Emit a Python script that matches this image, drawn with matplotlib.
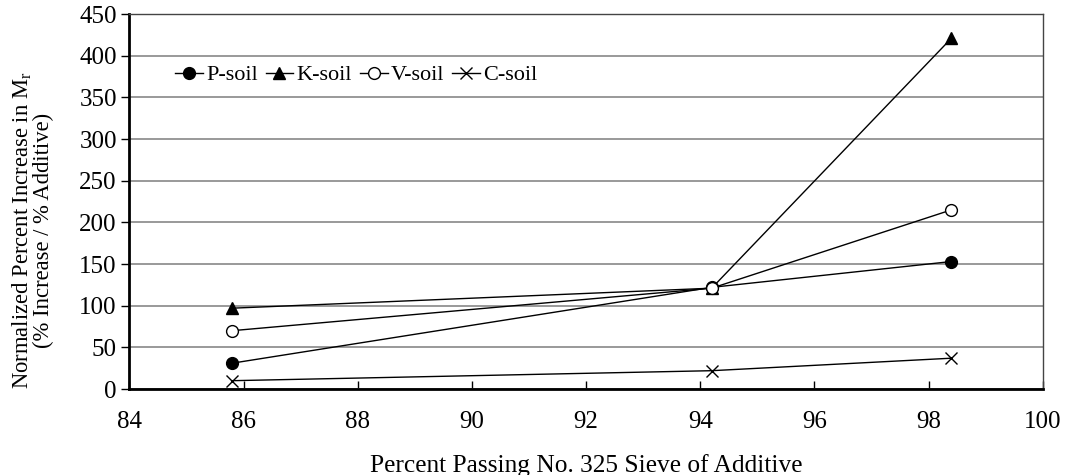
import matplotlib
matplotlib.use('Agg')
import matplotlib.pyplot as plt

plt.rcParams['font.family'] = ['Liberation Serif', 'DejaVu Serif']
plt.rcParams['mathtext.fontset'] = 'custom'
plt.rcParams['mathtext.rm'] = 'Liberation Serif'

# data
passing = [85.8, 94.2, 98.4]
p_soil = [31, 122, 153]
k_soil = [97, 121, 421]
v_soil = [70, 121, 215]
c_soil = [10, 22, 37]

fig = plt.figure(figsize=(10.69, 4.75), dpi=100)
ax = fig.add_axes([0.121, 0.181, 0.8545, 0.7895])

ax.plot(passing, p_soil, '-o', color='black', lw=1, ms=8.5, label='P-soil')
ax.plot(passing, k_soil, '-^', color='black', lw=1, ms=8.5, label='K-soil')
ax.plot(passing, v_soil, '-o', color='black', mfc='white', lw=1, ms=8.5, label='V-soil')
ax.plot(passing, c_soil, '-x', color='black', lw=1, ms=9, mew=1, label='C-soil')

ax.set_xlim(84, 100)
ax.set_ylim(0, 450)
ax.set_xticks(range(84, 101, 2))
ax.set_yticks(range(0, 451, 50))
ax.yaxis.grid(True, color='#888888', lw=1.2)
ax.set_axisbelow(True)

for s in ['left', 'bottom']:
    ax.spines[s].set_linewidth(2)
for s in ['top', 'right']:
    ax.spines[s].set_linewidth(1)
    ax.spines[s].set_color('#444444')

ax.tick_params(axis='x', direction='in', length=6, width=1, labelsize=18, pad=16)
ax.tick_params(axis='y', direction='out', length=6, width=1, labelsize=18, pad=3)

ax.set_xlabel('Percent Passing No. 325 Sieve of Additive', fontsize=18.3, labelpad=15)
ax.set_ylabel('Normalized Percent Increase in M$_\\mathregular{r}$\n(% Increase / % Additive)',
              fontsize=16.3, linespacing=0.9)
ax.yaxis.set_label_coords(-0.083, 0.424)

ax.legend(loc='center left', bbox_to_anchor=(0.028, 0.837), ncol=4, frameon=False,
          fontsize=16, handlelength=1.25, handletextpad=0.15, columnspacing=0.35)

fig.savefig('out.png', dpi=100)
